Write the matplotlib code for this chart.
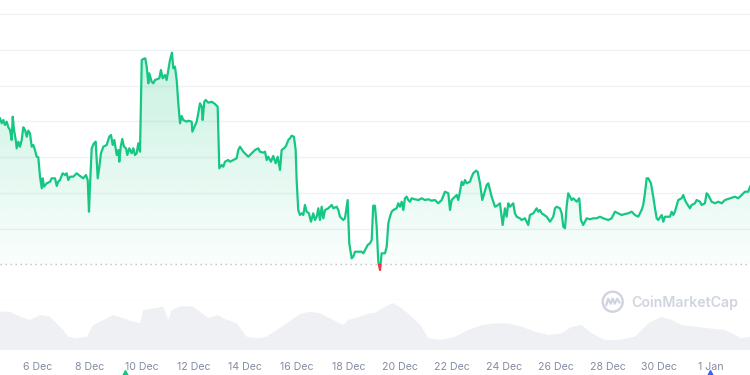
import matplotlib
matplotlib.use("Agg")
import matplotlib.pyplot as plt
import matplotlib.dates as mdates
import matplotlib.transforms as mtransforms
from matplotlib.patches import Rectangle, Circle
from matplotlib.lines import Line2D
import numpy as np
import pandas as pd

plt.rcParams['font.family'] = ['Inter', 'DejaVu Sans']

# hourly-ish price readings, hours after the first sample
start = pd.Timestamp('2023-12-04 12:48')
price_hours = [
    0.0, 1.6, 3.1, 4.6, 6.2, 7.7, 9.3, 10.8, 11.8, 13.0,
    14.6, 15.5, 17.0, 18.5, 20.1, 21.6, 23.2, 24.8, 26.2, 27.8,
    29.4, 30.9, 32.4, 34.0, 35.5, 37.1, 38.7, 39.6, 40.8, 43.3,
    46.4, 47.9, 51.0, 52.6, 54.0, 55.6, 58.1, 60.3, 61.8, 63.3,
    64.9, 67.9, 71.1, 74.2, 77.2, 79.7, 81.3, 82.5, 83.4, 85.0,
    87.1, 88.7, 89.6, 90.6, 92.1, 93.6, 95.8, 98.9, 101.3, 102.9,
    104.5, 106.0, 108.2, 109.7, 110.6, 111.9, 113.4, 114.9, 116.8, 118.0,
    119.9, 122.1, 123.6, 125.1, 126.7, 128.2, 129.8, 131.4, 132.8, 134.7,
    136.0, 137.5, 138.4, 140.6, 142.1, 143.7, 145.3, 147.7, 149.2, 150.8,
    153.0, 154.5, 156.0, 157.6, 159.4, 160.7, 162.2, 163.8, 165.3, 166.9,
    168.4, 169.9, 173.1, 174.6, 177.7, 178.3, 180.1, 182.3, 183.8, 185.4,
    187.0, 187.9, 189.4, 190.7, 193.1, 196.2, 199.3, 201.8, 203.3, 205.5,
    207.0, 208.6, 211.6, 213.2, 216.3, 219.4, 220.9, 222.5, 225.5, 228.7,
    230.2, 233.3, 236.4, 239.4, 241.0, 244.1, 245.7, 247.2, 248.7, 251.2,
    253.3, 255.6, 257.4, 259.6, 261.1, 263.3, 265.1, 267.3, 268.8, 270.4,
    272.5, 274.1, 275.0, 276.5, 278.1, 279.7, 281.2, 282.7, 284.3, 286.4,
    288.3, 290.4, 292.0, 293.6, 295.1, 296.6, 298.2, 299.7, 301.3, 304.3,
    307.5, 309.0, 312.1, 313.6, 315.2, 318.2, 319.8, 322.3, 323.8, 326.0,
    327.5, 329.1, 332.1, 335.3, 336.8, 338.4, 340.9, 343.0, 344.6, 346.0,
    347.6, 349.2, 350.7, 352.3, 353.8, 356.9, 358.5, 360.0, 361.5, 363.1,
    364.6, 367.7, 369.2, 370.8, 372.4, 373.9, 375.4, 377.0, 378.5, 380.1,
    381.6, 384.7, 387.8, 390.9, 394.0, 397.0, 400.2, 403.2, 406.3, 409.5,
    412.5, 415.6, 417.2, 418.7, 421.8, 423.4, 424.8, 426.4, 428.0, 429.5,
    431.1, 432.6, 435.7, 437.3, 438.7, 441.3, 442.8, 445.0, 447.1, 448.9,
    451.2, 452.7, 454.2, 455.8, 457.3, 458.9, 460.4, 463.5, 466.0, 468.1,
    469.7, 471.2, 472.8, 475.8, 477.4, 479.0, 482.0, 483.6, 486.7, 488.2,
    489.7, 491.3, 494.4, 497.5, 499.0, 500.6, 502.2, 506.8, 509.9, 512.9,
    514.5, 516.1, 519.1, 520.7, 522.2, 523.8, 525.3, 526.8, 530.0, 531.5,
    534.6, 537.0, 538.6, 540.7, 542.3, 543.9, 546.9, 550.0, 553.1, 556.2,
    559.3, 563.9, 567.0, 570.1, 573.2, 576.3, 579.4, 582.4, 585.6, 588.6,
    591.7, 594.8, 596.3, 597.9, 599.5, 601.0, 603.5, 605.6, 607.2, 608.8,
    610.2, 613.4, 614.9, 616.5, 621.1, 622.7, 624.2, 625.7, 628.8, 631.9,
    633.4, 635.0, 636.6, 639.6, 641.2, 644.3, 645.8, 648.9, 650.5, 653.5,
    655.1, 656.6, 659.7, 662.8, 665.9, 669.0, 672.1, 676.7, 681.3, 684.4,
    687.6, 690.6, 693.7, 695.3,
]
price_usd = [
    0.4817, 0.4767, 0.4800, 0.4750, 0.4783, 0.4727, 0.4700, 0.4600, 0.4833, 0.4700,
    0.4600, 0.4517, 0.4583, 0.4533, 0.4600, 0.4727, 0.4700, 0.4633, 0.4693, 0.4667,
    0.4533, 0.4550, 0.4500, 0.4433, 0.4427, 0.4233, 0.4117, 0.4217, 0.4133, 0.4167,
    0.4183, 0.4217, 0.4217, 0.4140, 0.4183, 0.4200, 0.4267, 0.4250, 0.4267, 0.4200,
    0.4233, 0.4233, 0.4267, 0.4240, 0.4217, 0.4250, 0.4200, 0.3883, 0.4133, 0.4517,
    0.4567, 0.4583, 0.4400, 0.4217, 0.4333, 0.4467, 0.4533, 0.4550, 0.4633, 0.4650,
    0.4550, 0.4600, 0.4450, 0.4500, 0.4383, 0.4533, 0.4610, 0.4533, 0.4517, 0.4450,
    0.4517, 0.4467, 0.4517, 0.4450, 0.4467, 0.4567, 0.4483, 0.5400, 0.5410, 0.5417,
    0.5333, 0.5167, 0.5267, 0.5183, 0.5167, 0.5200, 0.5207, 0.5217, 0.5300, 0.5217,
    0.5250, 0.5200, 0.5300, 0.5400, 0.5473, 0.5317, 0.5333, 0.5200, 0.4967, 0.4767,
    0.4840, 0.4800, 0.4783, 0.4793, 0.4783, 0.4683, 0.4727, 0.4783, 0.4867, 0.4967,
    0.4933, 0.4800, 0.4983, 0.5000, 0.4973, 0.4983, 0.4960, 0.4933, 0.4317, 0.4350,
    0.4333, 0.4383, 0.4400, 0.4383, 0.4400, 0.4417, 0.4500, 0.4533, 0.4483, 0.4450,
    0.4433, 0.4467, 0.4500, 0.4517, 0.4483, 0.4473, 0.4483, 0.4400, 0.4433, 0.4383,
    0.4440, 0.4367, 0.4433, 0.4300, 0.4500, 0.4517, 0.4540, 0.4600, 0.4617, 0.4643,
    0.4633, 0.4500, 0.4200, 0.3900, 0.3850, 0.3867, 0.3850, 0.3950, 0.3883, 0.3867,
    0.3783, 0.3867, 0.3800, 0.3833, 0.3917, 0.3800, 0.3933, 0.3817, 0.3900, 0.3917,
    0.3950, 0.3917, 0.3933, 0.3900, 0.3833, 0.3800, 0.3817, 0.4000, 0.3567, 0.3417,
    0.3433, 0.3483, 0.3483, 0.3483, 0.3467, 0.3500, 0.3550, 0.3567, 0.3600, 0.3943,
    0.3943, 0.3733, 0.3383, 0.3300, 0.3467, 0.3467, 0.3533, 0.3767, 0.3833, 0.3883,
    0.3900, 0.3917, 0.3967, 0.3933, 0.3983, 0.3900, 0.4017, 0.4033, 0.4000, 0.3983,
    0.4017, 0.4007, 0.4000, 0.4017, 0.4000, 0.4007, 0.3993, 0.4000, 0.3967, 0.4000,
    0.4083, 0.4067, 0.3900, 0.4000, 0.4033, 0.4050, 0.4000, 0.4083, 0.4183, 0.4150,
    0.4200, 0.4167, 0.4183, 0.4233, 0.4267, 0.4293, 0.4283, 0.4167, 0.4000, 0.4067,
    0.4150, 0.4167, 0.4100, 0.4033, 0.3983, 0.3933, 0.3940, 0.3967, 0.3750, 0.3917,
    0.3833, 0.3967, 0.3933, 0.3967, 0.3867, 0.3833, 0.3817, 0.3800, 0.3817, 0.3783,
    0.3750, 0.3850, 0.3867, 0.3917, 0.3883, 0.3900, 0.3867, 0.3833, 0.3783, 0.3833,
    0.3917, 0.3933, 0.3917, 0.3867, 0.3733, 0.3717, 0.3933, 0.4067, 0.4000, 0.4017,
    0.3983, 0.4017, 0.3800, 0.3750, 0.3783, 0.3817, 0.3807, 0.3817, 0.3817, 0.3833,
    0.3817, 0.3800, 0.3817, 0.3883, 0.3867, 0.3850, 0.3860, 0.3867, 0.3883, 0.3850,
    0.3833, 0.3900, 0.3950, 0.4067, 0.4217, 0.4217, 0.4167, 0.4033, 0.3917, 0.3817,
    0.3800, 0.3850, 0.3783, 0.3833, 0.3833, 0.3883, 0.3850, 0.3883, 0.4000, 0.4017,
    0.4050, 0.4000, 0.3967, 0.3917, 0.3950, 0.3967, 0.4000, 0.3983, 0.3950, 0.3967,
    0.4067, 0.4050, 0.3983, 0.3967, 0.3983, 0.3967, 0.4000, 0.4017, 0.4033, 0.4017,
    0.4050, 0.4083, 0.4083, 0.4133,
]

# 24h volume profile in $M
volume_hours = [
    0.0, 9.3, 18.5, 27.8, 37.1, 46.4, 58.7, 63.3, 71.1, 80.4,
    86.5, 95.8, 105.0, 114.3, 123.6, 129.8, 132.8, 142.1, 151.4, 156.0,
    159.2, 168.4, 179.2, 185.4, 193.1, 202.4, 207.0, 219.4, 228.7, 238.0,
    247.2, 256.5, 265.8, 278.1, 287.4, 296.6, 305.9, 318.2, 322.9, 333.7,
    343.0, 347.6, 356.9, 364.6, 372.4, 381.6, 390.9, 397.0, 409.5, 421.8,
    434.1, 446.5, 458.9, 471.2, 483.6, 495.9, 508.3, 520.7, 530.0, 539.2,
    548.5, 560.8, 573.2, 588.6, 601.0, 613.4, 622.7, 631.9, 644.3, 656.6,
    672.1, 681.3, 687.6, 695.3,
]
volume_musd = [
    38.3, 38.3, 33.3, 30.0, 35.0, 33.3, 20.0, 13.3, 11.7, 13.3,
    25.0, 30.0, 35.0, 31.7, 28.3, 26.7, 40.0, 41.7, 43.3, 30.0,
    40.0, 44.0, 43.3, 38.3, 31.7, 35.0, 31.7, 26.7, 13.3, 11.7,
    13.3, 20.0, 26.7, 36.0, 38.3, 36.7, 31.7, 25.0, 30.0, 33.3,
    36.7, 37.0, 43.3, 46.7, 41.7, 33.3, 23.3, 11.7, 10.0, 13.3,
    20.0, 25.0, 26.7, 26.7, 23.3, 18.3, 15.0, 16.7, 23.3, 25.0,
    16.7, 10.0, 10.0, 13.3, 26.7, 33.3, 30.0, 25.0, 23.3, 21.7,
    20.0, 15.0, 11.7, 13.3,
]

ref_price = 0.336          # dotted baseline
grid_step = 0.03575
tick_days = pd.date_range('2023-12-06', '2024-01-01', freq='2D')
tick_labels = [f"{d.day} {d.strftime('%b')}" for d in tick_days]
event_hours = [115.9, 658.2]
event_colors = ['#16c784', '#3861fb']

green = '#16c784'
red = '#ea3943'

t = mdates.date2num(start + pd.to_timedelta(price_hours, unit='h'))
p = np.array(price_usd)
tv = mdates.date2num(start + pd.to_timedelta(volume_hours, unit='h'))
t0, t1 = t[0], t[-1]

fig = plt.figure(figsize=(7.5, 3.75), dpi=100)
ax = fig.add_axes([0, 75 / 375, 1, 300 / 375])
axv = fig.add_axes([0, 25 / 375, 1, 50 / 375])

for a in (ax, axv):
    for s in a.spines.values():
        s.set_visible(False)
    a.set_yticks([])

# grid
for k in range(9):
    if k == 1:
        continue
    ax.axhline(0.30 + k * grid_step, color='#eff2f5', lw=1, zorder=0, clip_on=False)
ax.axhline(ref_price, color='#b8bfcc', lw=1, ls=(0, (1, 2.6)), zorder=2)

# gradient fill under the price
fill = ax.fill_between(t, p, ref_price, facecolor='none', edgecolor='none')
grad = np.zeros((256, 1, 4))
grad[..., :3] = matplotlib.colors.to_rgb(green)
grad[..., 3] = np.linspace(0.24, 0.02, 256)[:, None]
im = ax.imshow(grad, extent=[t0, t1, ref_price, p.max()], aspect='auto',
               origin='upper', zorder=1, interpolation='bilinear')
im.set_clip_path(fill.get_paths()[0], transform=ax.transData)

# price line, red below the baseline
above = Rectangle((t0, ref_price), t1 - t0, 1.0, transform=ax.transData)
below = Rectangle((t0, ref_price - 1.0), t1 - t0, 1.0, transform=ax.transData)
ln_g, = ax.plot(t, p, color=green, lw=1.6, zorder=3, solid_joinstyle='round')
ln_g.set_clip_path(above)
ln_r, = ax.plot(t, p, color=red, lw=1.6, zorder=3, solid_joinstyle='round')
ln_r.set_clip_path(below)

ax.set_xlim(t0, t1)
ax.set_ylim(0.30, 0.60)
ax.set_xticks([])

# volume
axv.fill_between(tv, volume_musd, 0, color='#eef0f4', lw=0)
axv.set_xlim(t0, t1)
axv.set_ylim(0, 50)
axv.set_xticks(mdates.date2num(tick_days))
axv.set_xticklabels(tick_labels)
axv.tick_params(axis='x', length=0, pad=9, labelsize=7.6, labelcolor='#858ca2')

trans = mtransforms.blended_transform_factory(axv.transData, axv.transAxes)
axv.text(mdates.date2num(pd.Timestamp('2023-12-04')), -0.3, '4 Dec', transform=trans,
         ha='center', va='center', fontsize=7.6, color='#858ca2', clip_on=False)
ev_t = mdates.date2num(start + pd.to_timedelta(event_hours, unit='h'))
for et, ec in zip(ev_t, event_colors):
    axv.plot([et], [-0.5], marker='^', ms=7, color=ec, transform=trans, clip_on=False)

# watermark
wm = '#cfd4de'
fig.add_artist(Circle((6.127, 0.733), 0.10, transform=fig.dpi_scale_trans,
                      fill=False, lw=1.7, color=wm))
wx = np.array([-0.065, -0.045, -0.02, 0.0, 0.02, 0.045, 0.07]) + 6.127
wy = np.array([-0.035, 0.03, -0.02, 0.03, -0.02, 0.03, -0.01]) + 0.733
fig.add_artist(Line2D(wx, wy, transform=fig.dpi_scale_trans, lw=1.6, color=wm,
                      solid_joinstyle='round', solid_capstyle='round'))
fig.text(631 / 750, 72 / 375, 'CoinMarketCap', fontsize=10.2, color=wm,
         fontweight='semibold', va='center', ha='left')

fig.savefig('out.png', dpi=100)
